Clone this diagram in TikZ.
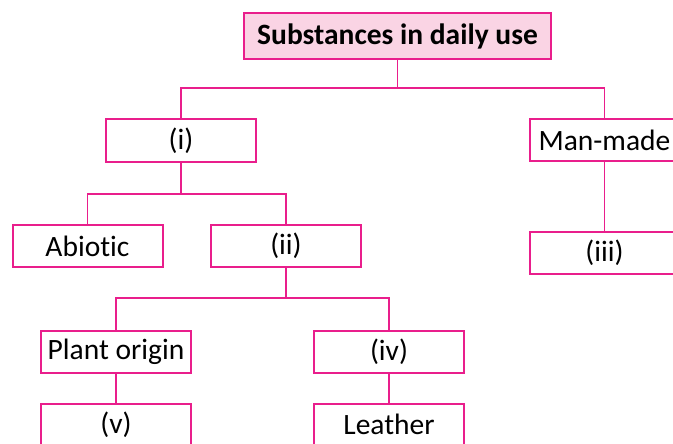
\documentclass[tikz,border=0pt]{standalone}
\usepackage{fontspec}
\setmainfont{Carlito}[Ligatures = NoCommon]
\definecolor{magline}{RGB}{233,30,140}
\definecolor{pinkfill}{RGB}{250,212,228}
\tikzset{
  box/.style = {draw = magline, line width = 2pt, minimum width = 150pt, minimum height = 42pt,
                inner sep = 0pt, font = \fontsize{29.5}{33}\selectfont},
  link/.style = {draw = magline, line width = 1.3pt}
}
\begin{document}
\begin{tikzpicture}[x = 1pt, y = -1pt]
      \useasboundingbox (0,0) rectangle (673,444);
      \clip (0,0) rectangle (673,444);

      \node [box, fill = pinkfill, minimum width = 307pt, minimum height = 46pt,
             font = \fontsize{29.5}{33}\selectfont\bfseries] (top) at (397.5,36) {Substances in daily use};

      \node [box] (one)     at (181,140.5)   {(i)};
      \node [box] (manmade) at (604.5,140)   {Man-made};

      \node [box] (abiotic) at (87.5,246)    {Abiotic};
      \node [box] (two)     at (286,246)     {(ii)};
      \node [box] (three)   at (604.5,253)   {(iii)};

      \node [box] (plant)   at (116,351.5)   {Plant origin};
      \node [box] (four)    at (389,351.5)   {(iv)};

      \node [box] (five)    at (116,424.5)   {(v)};
      \node [box] (leather) at (389,424.5)   {Leather};

      \coordinate (j1) at (397.5,88);
      \coordinate (j2) at (181,194);
      \coordinate (j3) at (286,298);

      \draw [link] (top.south) -- (j1);
      \draw [link] (one.north) |- (j1) -| (manmade.north);
      \draw [link] (manmade.south) -- (three.north);

      \draw [link] (one.south) -- (j2);
      \draw [link] (abiotic.north) |- (j2) -| (two.north);

      \draw [link] (two.south) -- (j3);
      \draw [link] (plant.north) |- (j3) -| (four.north);

      \draw [link] (plant.south) -- (five.north);
      \draw [link] (four.south) -- (leather.north);

\end{tikzpicture}
\end{document}
